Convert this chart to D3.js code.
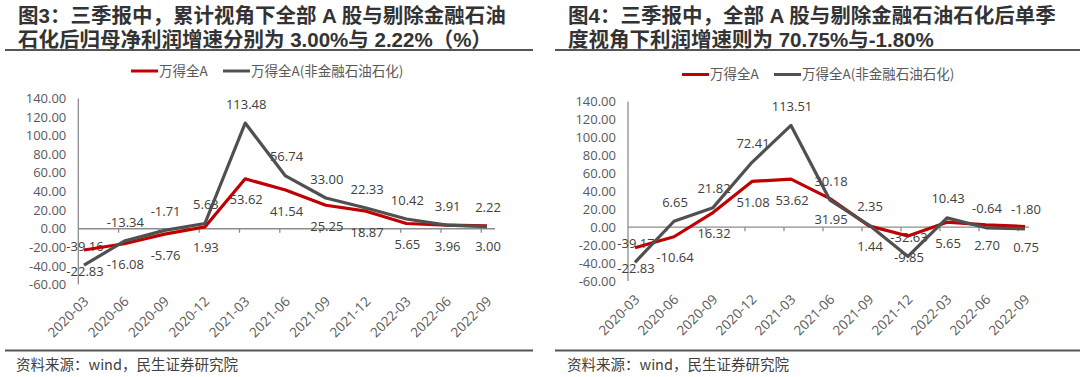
<!DOCTYPE html>
<html><head><meta charset="utf-8">
<script src="https://cdn.jsdelivr.net/npm/d3@7"></script>
<style>
html,body{margin:0;padding:0;background:#fff;}
svg{display:block;}
text{font-family:"Open Sans","Noto Sans","Noto Sans CJK SC",sans-serif;}
.cjk{font-family:"Noto Sans CJK SC","Noto Sans",sans-serif;}
.ttl{font-family:"Liberation Sans","Noto Sans CJK SC",sans-serif;}
</style></head>
<body>
<svg id="c" width="1080" height="377"></svg>
<script>
const categories = ["2020-03","2020-06","2020-09","2020-12","2021-03","2021-06","2021-09","2021-12","2022-03","2022-06","2022-09"];
const yTickValues = [-60,-40,-20,0,20,40,60,80,100,120,140];
const seriesNames = ["万得全A","万得全A(非金融石油石化)"];
// Figure 3: cumulative
const fig3All = [-22.83,-16.08,-5.76,1.93,53.62,41.54,25.25,18.87,5.65,3.96,3.00];
const fig3ExFin = [-39.16,-13.34,-1.71,5.63,113.48,56.74,33.00,22.33,10.42,3.91,2.22];
// Figure 4: single quarter
const fig4All = [-22.83,-10.64,16.32,51.08,53.62,31.95,1.44,-9.85,5.65,2.70,0.75];
const fig4ExFin = [-39.17,6.65,21.82,72.41,113.51,30.18,2.35,-32.63,10.43,-0.64,-1.80];
const title3 = ["图3：三季报中，累计视角下全部 A 股与剔除金融石油","石化后归母净利润增速分别为 3.00%与 2.22%（%）"];
const title4 = ["图4：三季报中，全部 A 股与剔除金融石油石化后单季","度视角下利润增速则为 70.75%与-1.80%"];
const sourceText = "资料来源：wind，民生证券研究院";

const RED = "#C00000", GRAY = "#505050";
const svg = d3.select("#c");

function drawPanel(o){
  const g = svg.append("g");
  // titles
  o.title.forEach((t,i)=>{
    g.append("text").attr("class","ttl").attr("x",o.titleX).attr("y",23+i*23.5)
      .attr("font-size",20.5).attr("font-weight","bold").attr("fill","#333").text(t);
  });
  g.append("line").attr("x1",o.sepX1).attr("x2",o.sepX2).attr("y1",50).attr("y2",50)
    .attr("stroke","#555").attr("stroke-width",2);
  g.append("line").attr("x1",o.sepX1).attr("x2",o.sepX2).attr("y1",350.5).attr("y2",350.5)
    .attr("stroke","#555").attr("stroke-width",2);
  g.append("text").attr("class","cjk").attr("x",o.srcX).attr("y",370).attr("font-size",14.5)
    .attr("fill","#404040").text(sourceText);

  // legend
  const leg = [{n:seriesNames[0],c:RED,x:o.legX[0]},{n:seriesNames[1],c:GRAY,x:o.legX[1]}];
  leg.forEach(l=>{
    g.append("line").attr("x1",l.x).attr("x2",l.x+27).attr("y1",o.legY).attr("y2",o.legY)
      .attr("stroke",l.c).attr("stroke-width",3);
    g.append("text").attr("class","cjk").attr("x",l.x+28).attr("y",o.legY).attr("dy","0.36em")
      .attr("font-size",13.5).attr("fill","#595959").text(l.n);
  });

  const x = d3.scalePoint().domain(categories).range(o.xRange);
  const y = d3.scaleLinear().domain([-60,140]).range(o.yRange);
  const axisX = x(categories[0]) - o.tickOff;

  // y axis
  g.append("line").attr("x1",axisX).attr("x2",axisX).attr("y1",y(140)).attr("y2",y(-60))
    .attr("stroke","#8c8c8c").attr("stroke-width",1.3);
  yTickValues.forEach(v=>{
    g.append("text").attr("x",axisX-12).attr("y",y(v)).attr("dy","0.35em")
      .attr("text-anchor","end").attr("font-size",13).attr("fill","#595959").text(v.toFixed(2));
  });
  // zero line with ticks
  g.append("line").attr("x1",axisX).attr("x2",x(categories[categories.length-1])+o.endExt)
    .attr("y1",y(0)).attr("y2",y(0)).attr("stroke","#8c8c8c").attr("stroke-width",1.3);
  categories.forEach((c,i)=>{
    if(i===0) return;
    g.append("line").attr("x1",x(c)-o.tickOff).attr("x2",x(c)-o.tickOff)
      .attr("y1",y(0)).attr("y2",y(0)+4).attr("stroke","#8c8c8c").attr("stroke-width",1.3);
  });
  // x labels
  categories.forEach(c=>{
    g.append("text").attr("transform",`translate(${x(c)+2},${o.xLabY}) rotate(-45)`)
      .attr("text-anchor","end").attr("dy","0.35em").attr("font-size",13.5).attr("fill","#595959").text(c);
  });

  // data labels (under lines)
  o.gray.forEach((v,i)=>{
    g.append("text").attr("x",x(categories[i])+1).attr("y",y(v)-19).attr("dy","0.35em")
      .attr("text-anchor","middle").attr("font-size",13).attr("fill","#404040").text(v.toFixed(2));
  });
  o.red.forEach((v,i)=>{
    g.append("text").attr("x",x(categories[i])+1).attr("y",y(v)+21).attr("dy","0.35em")
      .attr("text-anchor","middle").attr("font-size",13).attr("fill","#404040").text(v.toFixed(2));
  });

  const line = d3.line().x((d,i)=>x(categories[i])).y(d=>y(d));
  g.append("path").datum(o.red).attr("d",line).attr("fill","none").attr("stroke",RED)
    .attr("stroke-width",3.2).attr("stroke-linejoin","round");
  g.append("path").datum(o.gray).attr("d",line).attr("fill","none").attr("stroke",GRAY)
    .attr("stroke-width",3.2).attr("stroke-linejoin","round");
}

drawPanel({title:title3,titleX:18,sepX1:5,sepX2:533,srcX:16,legX:[131,223],legY:71,
  xRange:[84,487],yRange:[284.6,98.4],tickOff:5.7,endExt:8,xLabY:299,red:fig3All,gray:fig3ExFin});
drawPanel({title:title4,titleX:568,sepX1:555,sepX2:1080,srcX:567,legX:[682,774],legY:74.5,
  xRange:[635,1025],yRange:[281,101.7],tickOff:7,endExt:4,xLabY:297,red:fig4All,gray:fig4ExFin});
</script>
</body></html>
